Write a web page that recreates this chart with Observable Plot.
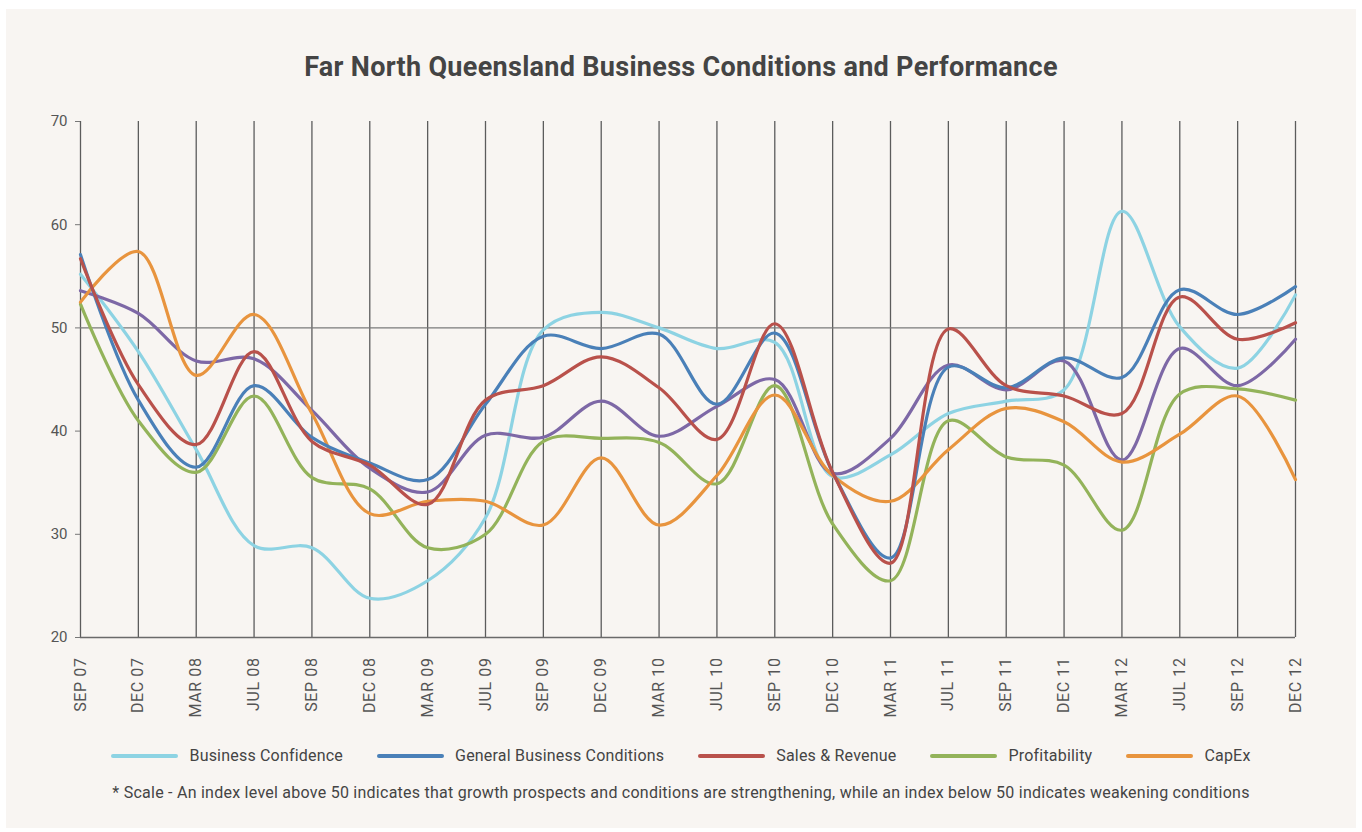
<!DOCTYPE html>
<html>
<head>
<meta charset="utf-8">
<script src="https://cdn.jsdelivr.net/npm/d3@7"></script>
<script src="https://cdn.jsdelivr.net/npm/@observablehq/plot@0.6"></script>
<style>
  html, body { margin: 0; padding: 0; background: #ffffff; }
  body { width: 1362px; height: 832px; position: relative; overflow: hidden; font-family: Roboto, "Noto Sans", sans-serif; }
  #panel { position: absolute; left: 6px; top: 9px; width: 1350px; height: 819px; background: #f8f5f2; }
  #title { position: absolute; left: 0; top: 51px; width: 1362px; text-align: center; font-size: 27px; font-weight: 700; color: #444444; letter-spacing: 0.3px; }
  #chart { position: absolute; left: 0; top: 100px; }
  #chart svg { background: transparent; }
  #chart .xaxis text { letter-spacing: 0.6px; }
  #legend { position: absolute; left: 0; top: 746px; width: 1362px; display: flex; justify-content: center; align-items: center; font-size: 16px; letter-spacing: 0.2px; color: #444444; }
  .item { display: flex; align-items: center; margin: 0 17px; }
  .sw { width: 67px; height: 4px; border-radius: 2px; margin-right: 11px; }
  #note { position: absolute; left: 0; top: 783px; width: 1362px; text-align: center; font-size: 16px; letter-spacing: 0.25px; color: #444444; }
</style>
</head>
<body>
<div id="panel"></div>
<div id="title">Far North Queensland Business Conditions and Performance</div>
<div id="chart"></div>
<div id="legend"></div>
<div id="note">* Scale - An index level above 50 indicates that growth prospects and conditions are strengthening, while an index below 50 indicates weakening conditions</div>
<script>
const categories = ["SEP 07","DEC 07","MAR 08","JUL 08","SEP 08","DEC 08","MAR 09","JUL 09","SEP 09","DEC 09","MAR 10","JUL 10","SEP 10","DEC 10","MAR 11","JUL 11","SEP 11","DEC 11","MAR 12","JUL 12","SEP 12","DEC 12"];

const businessConfidence = [55.2, 47.7, 38.2, 28.9, 28.7, 23.8, 25.5, 31.6, 49.8, 51.5, 50.0, 48.0, 48.6, 35.6, 37.7, 41.7, 42.9, 44.0, 61.3, 50.1, 46.1, 53.2];
const generalBusinessConditions = [57.1, 43.0, 36.5, 44.4, 39.4, 36.9, 35.3, 42.6, 49.2, 48.0, 49.4, 42.6, 49.5, 36.0, 27.7, 46.2, 44.2, 47.1, 45.2, 53.7, 51.3, 54.0];
const salesRevenue = [56.7, 44.5, 38.7, 47.7, 39.0, 36.7, 32.9, 43.0, 44.4, 47.2, 44.2, 39.2, 50.4, 36.0, 27.2, 49.9, 44.4, 43.4, 41.7, 53.0, 48.9, 50.5];
const profitability = [52.3, 41.0, 36.0, 43.4, 35.5, 34.4, 28.7, 30.0, 39.0, 39.3, 38.9, 34.9, 44.4, 31.0, 25.5, 41.0, 37.5, 36.7, 30.4, 43.6, 44.1, 43.0];
const capEx = [52.5, 57.4, 45.4, 51.3, 41.7, 32.0, 33.2, 33.2, 30.9, 37.4, 30.9, 35.7, 43.5, 35.7, 33.2, 38.2, 42.2, 40.9, 37.0, 39.7, 43.4, 35.3];
const unlabelledSeries = [53.6, 51.4, 46.8, 47.0, 42.0, 36.4, 34.1, 39.6, 39.4, 42.9, 39.5, 42.4, 45.0, 35.9, 39.3, 46.4, 44.0, 46.8, 37.2, 48.0, 44.4, 48.9];

const yTicks = [20, 30, 40, 50, 60, 70];

const series = [
  {name: "Business Confidence", values: businessConfidence, color: "#8dd3e3", legend: true},
  {name: "", values: unlabelledSeries, color: "#7d68a6", legend: false},
  {name: "Profitability", values: profitability, color: "#93b35a", legend: true},
  {name: "CapEx", values: capEx, color: "#e8943e", legend: true},
  {name: "General Business Conditions", values: generalBusinessConditions, color: "#4a80b8", legend: true},
  {name: "Sales & Revenue", values: salesRevenue, color: "#b9514b", legend: true}
];
const legendOrder = ["Business Confidence", "General Business Conditions", "Sales & Revenue", "Profitability", "CapEx"];

const lineMarks = series.map(s =>
  Plot.line(categories.map((c, i) => ({cat: c, v: s.values[i]})), {
    x: "cat", y: "v", stroke: s.color, strokeWidth: 3.2, curve: "catmull-rom"
  })
);

const chart = Plot.plot({
  width: 1362,
  height: 620,
  marginTop: 21,
  marginBottom: 83,
  marginLeft: 80,
  marginRight: 67,
  style: {background: "transparent", color: "#555555", fontFamily: "Roboto, sans-serif"},
  x: {type: "point", domain: categories, padding: 0, round: false, label: null},
  y: {domain: [20, 70], label: null},
  marks: [
    Plot.ruleX(categories, {stroke: "#5c5c5c", strokeWidth: 1.3}),
    Plot.ruleY([50], {stroke: "#7a7a7a", strokeWidth: 1.3}),
    Plot.ruleY([20], {stroke: "#6a6a6a", strokeWidth: 1.6}),
    Plot.axisY({ticks: yTicks, tickSize: 5, tickPadding: 8, fontSize: 15, stroke: "#777777", label: null}),
    Plot.axisX({tickSize: 0, tickRotate: -90, tickPadding: 20, fontSize: 16, className: "xaxis", label: null}),
    ...lineMarks
  ]
});
document.getElementById("chart").appendChild(chart);

const legend = document.getElementById("legend");
legendOrder.forEach(n => {
  const s = series.find(d => d.name === n);
  const item = document.createElement("div");
  item.className = "item";
  const sw = document.createElement("div");
  sw.className = "sw";
  sw.style.background = s.color;
  const t = document.createElement("span");
  t.textContent = s.name;
  item.appendChild(sw);
  item.appendChild(t);
  legend.appendChild(item);
});
</script>
</body>
</html>
